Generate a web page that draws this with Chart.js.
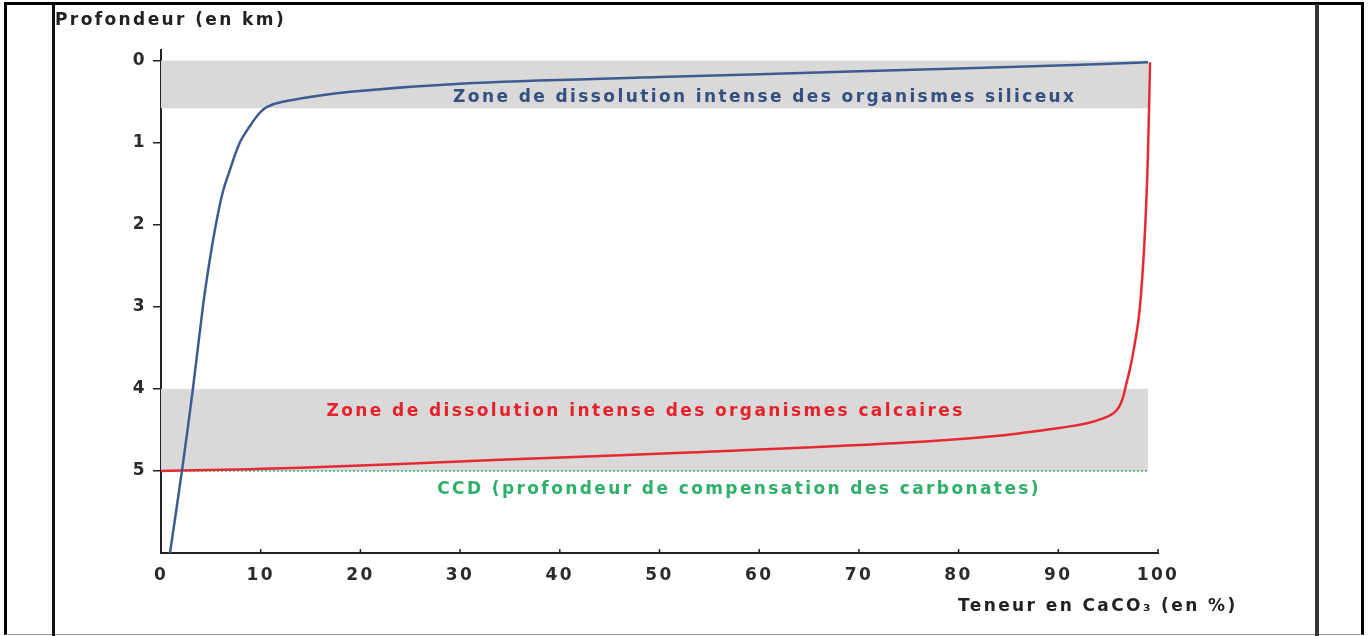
<!DOCTYPE html>
<html lang="fr">
<head>
<meta charset="utf-8">
<title>Profondeur et teneur en CaCO3</title>
<script src="https://cdn.jsdelivr.net/npm/chart.js@4.4.1/dist/chart.umd.min.js"></script>
<style>
    html, body { margin: 0; padding: 0; background: #fff; }
    #wrap { position: relative; width: 1368px; height: 636px; overflow: hidden; }
    #chart { position: absolute; left: 0; top: 0; }
    /* the two frames of the scanned figure */
    .outer {
        position: absolute; left: 4px; top: 2px; width: 1354px; height: 629px;
        border-top: 3px solid #000; border-left: 3px solid #000;
        border-right: 3px solid #000; border-bottom: 1px solid #999;
    }
    .inner {
        position: absolute; left: 52px; top: 4px; width: 1260px; height: 640px;
        border-left: 3px solid #111; border-right: 4px solid #333;
    }
</style>
</head>
<body>
<div id="wrap">
    <canvas id="chart" width="1368" height="636"></canvas>
    <div class="outer"></div>
    <div class="inner"></div>
</div>
<script>
// Data
const depthTicks = [0, 1, 2, 3, 4, 5];                 // km
const percentTicks = [0, 10, 20, 30, 40, 50, 60, 70, 80, 90, 100];

// siliceous organisms (blue curve)
const siliceuxX = [0.9, 2.1, 3.2, 4.2, 4.8, 5.5, 6.2, 7.0, 7.9, 8.9, 9.8, 10.6, 12.2, 19, 30, 50, 70, 90, 99];
const siliceuxY = [6, 5, 4, 3, 2.5, 2.0, 1.6, 1.3, 1.0, 0.8, 0.65, 0.565, 0.5, 0.38, 0.28, 0.2, 0.13, 0.06, 0.02];

// calcareous organisms (red curve)
const calcaireX = [0, 14, 34, 53, 74, 84, 91, 93, 94.5, 95.5, 96.1, 96.5, 96.8, 97.2, 97.6, 98.1, 98.5, 98.8, 99.0, 99.2];
const calcaireY = [5.0, 4.96, 4.865, 4.775, 4.66, 4.57, 4.46, 4.415, 4.36, 4.30, 4.22, 4.10, 3.95, 3.75, 3.5, 3.1, 2.5, 1.8, 1.1, 0.02];

// CCD line
const ccdX = [0, 99];
const ccdY = [5, 5];

// shaded dissolution zones (km)
const zoneTop = [0, 4];
const zoneBottom = [0.58, 5];
const zoneEndPercent = 99;

const LETTER_SPACING = '2.4px';
const TEXT_FONT = 'bold 17px "DejaVu Sans", sans-serif';

function toPoints(xs, ys) {
    return xs.map((x, i) => ({ x: x, y: ys[i] }));
}

// Annotations placed in data units
const notes = [
    { text: 'Zone de dissolution intense des organismes siliceux', x: 29.3, y: 0.455, color: '#34507f' },
    { text: 'Zone de dissolution intense des organismes calcaires', x: 16.6, y: 4.28, color: '#e5212c' },
    { text: 'CCD (profondeur de compensation des carbonates)', x: 27.7, y: 5.23, color: '#2eb06a' }
];

const figureDecor = {
    id: 'figureDecor',
    beforeUpdate(chart) {
        chart.ctx.letterSpacing = LETTER_SPACING;
    },
    beforeDraw(chart) {
        chart.ctx.letterSpacing = LETTER_SPACING;
    },
    beforeDatasetsDraw(chart) {
        const ctx = chart.ctx;
        const xs = chart.scales.x, ys = chart.scales.y;
        ctx.save();
        ctx.fillStyle = '#d9d9d9';
        zoneTop.forEach((top, i) => {
            const x0 = xs.getPixelForValue(0);
            const x1 = xs.getPixelForValue(zoneEndPercent);
            const y0 = ys.getPixelForValue(top);
            const y1 = ys.getPixelForValue(zoneBottom[i]);
            ctx.fillRect(x0, y0, x1 - x0, y1 - y0);
        });
        ctx.restore();
    },
    afterDraw(chart) {
        const ctx = chart.ctx;
        const xs = chart.scales.x, ys = chart.scales.y;
        const area = chart.chartArea;
        ctx.save();
        ctx.letterSpacing = LETTER_SPACING;

        // small inward tick marks on the x axis
        ctx.strokeStyle = '#222';
        ctx.lineWidth = 1.5;
        xs.ticks.forEach(t => {
            const px = xs.getPixelForValue(t.value);
            ctx.beginPath();
            ctx.moveTo(px, area.bottom);
            ctx.lineTo(px, area.bottom - 4);
            ctx.stroke();
        });

        ctx.font = TEXT_FONT;
        ctx.textBaseline = 'middle';
        ctx.textAlign = 'left';
        notes.forEach(n => {
            ctx.fillStyle = n.color;
            ctx.fillText(n.text, xs.getPixelForValue(n.x), ys.getPixelForValue(n.y));
        });

        // axis titles
        ctx.fillStyle = '#222';
        ctx.fillText('Profondeur (en km)', area.left - 106, 21);
        ctx.fillText('Teneur en CaCO\u2083 (en %)', area.right - 200, 607);
        ctx.restore();
    }
};

Chart.defaults.font.family = '"DejaVu Sans", sans-serif';
Chart.defaults.font.size = 17;
Chart.defaults.font.weight = 'bold';
Chart.defaults.color = '#2b2b2b';

function initChart() {
    const ctx = document.getElementById('chart');
    return new Chart(ctx.getContext('2d'), {
        type: 'line',
        data: {
            datasets: [
                {
                    label: 'Organismes siliceux',
                    data: toPoints(siliceuxX, siliceuxY),
                    borderColor: '#3d5b90',
                    borderWidth: 2.5,
                    pointRadius: 0,
                    tension: 0.35,
                    order: 1
                },
                {
                    label: 'Organismes calcaires',
                    data: toPoints(calcaireX, calcaireY),
                    borderColor: '#e62a33',
                    borderWidth: 2.5,
                    pointRadius: 0,
                    tension: 0.35,
                    order: 2
                },
                {
                    label: 'CCD',
                    data: toPoints(ccdX, ccdY),
                    borderColor: '#36b673',
                    borderWidth: 1.5,
                    borderDash: [2, 2],
                    pointRadius: 0,
                    order: 3
                }
            ]
        },
        options: {
            responsive: false,
            devicePixelRatio: 1,
            animation: false,
            layout: {
                padding: { top: 50, right: 210, left: 0, bottom: 0 }
            },
            scales: {
                x: {
                    type: 'linear',
                    min: 0,
                    max: 100,
                    afterBuildTicks: scale => {
                        scale.ticks = percentTicks.map(v => ({ value: v }));
                    },
                    afterFit: scale => { scale.height = 83; },
                    grid: { display: false, drawTicks: false },
                    border: { display: true, color: '#222', width: 2 },
                    ticks: { padding: 12, color: '#2b2b2b' }
                },
                y: {
                    type: 'linear',
                    reverse: true,
                    min: -0.13,
                    max: 6,
                    afterBuildTicks: scale => {
                        scale.ticks = depthTicks.map(v => ({ value: v }));
                    },
                    afterFit: scale => { scale.width = 161; },
                    grid: {
                        display: true,
                        drawOnChartArea: false,
                        drawTicks: true,
                        tickLength: 8,
                        color: '#222',
                        lineWidth: 1.5
                    },
                    border: { display: true, color: '#222', width: 2 },
                    ticks: { padding: 6, color: '#2b2b2b' }
                }
            },
            plugins: {
                legend: { display: false },
                tooltip: { enabled: false }
            }
        },
        plugins: [figureDecor]
    });
}

document.addEventListener('DOMContentLoaded', initChart);
</script>
</body>
</html>
